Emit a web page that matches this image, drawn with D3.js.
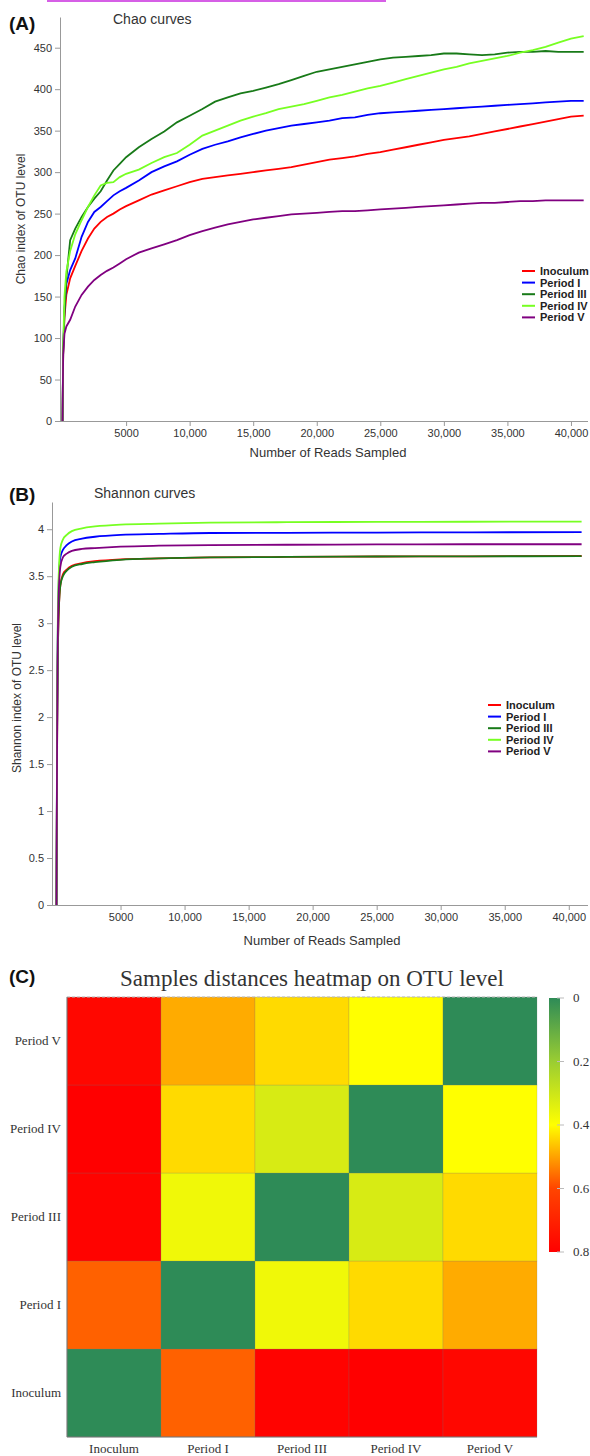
<!DOCTYPE html>
<html>
<head>
<meta charset="utf-8">
<script src="https://cdn.jsdelivr.net/npm/d3@7/dist/d3.min.js"></script>
<style>
  body { margin: 0; background: #fff; }
  svg text { font-family: "Liberation Sans", Arial, sans-serif; }
  .serif { font-family: "Liberation Serif", "Times New Roman", serif; }
  .axis path, .axis line { stroke: #999; }
  .axis text { fill: #333; font-size: 11px; }
</style>
</head>
<body>
<svg id="fig" width="590" height="1456"></svg>
<script>
// ---- data ----
var seriesNames = ["Inoculum", "Period I", "Period III", "Period IV", "Period V"];
var seriesColors = ["#ff0000", "#0000ff", "#187a18", "#77ff22", "#800080"];

var chaoReads = [0, 50, 150, 300, 600, 1000, 1500, 2000, 2500, 3000, 3500, 4000, 4500, 5000,
  6000, 7000, 8000, 9000, 10000, 11000, 12000, 13000, 14000, 15000, 16000, 17000, 18000, 19000,
  20000, 21000, 22000, 23000, 24000, 25000, 26000, 27000, 28000, 29000, 30000, 31000, 32000,
  33000, 34000, 35000, 36000, 37000, 38000, 39000, 40000, 41000];
var chaoInoculum = [0, 80, 125, 152, 172, 187, 205, 220, 232, 240, 246, 250, 255, 259,
  266, 273, 278, 283, 288, 292, 294, 296, 298, 300, 302, 304, 306, 309,
  312, 315, 317, 319, 322, 324, 327, 330, 333, 336, 339, 341, 343,
  346, 349, 352, 355, 358, 361, 364, 367, 368];
var chaoPeriodI = [0, 85, 135, 165, 182, 196, 222, 240, 252, 258, 265, 272, 277, 281,
  290, 300, 307, 313, 321, 328, 333, 337, 342, 346, 350, 353, 356, 358,
  360, 362, 365, 366, 369, 371, 372, 373, 374, 375, 376, 377, 378,
  379, 380, 381, 382, 383, 384, 385, 386, 386];
var chaoPeriodIII = [0, 82, 130, 172, 218, 232, 246, 258, 268, 277, 290, 302, 310, 318,
  330, 340, 349, 360, 368, 376, 385, 390, 395, 398, 402, 406, 411, 416,
  421, 424, 427, 430, 433, 436, 438, 439, 440, 441, 443, 443, 442,
  441, 442, 444, 445, 445, 446, 445, 445, 445];
var chaoPeriodIV = [0, 90, 150, 180, 205, 225, 242, 258, 272, 284, 287, 288, 294, 298,
  303, 311, 318, 323, 333, 344, 350, 356, 362, 367, 371, 376, 379, 382,
  386, 390, 393, 397, 401, 404, 408, 412, 416, 420, 424, 427, 431,
  434, 437, 440, 444, 447, 451, 456, 461, 464];
var chaoPeriodV = [0, 80, 105, 114, 122, 138, 152, 162, 170, 176, 181, 185, 190, 195,
  203, 208, 213, 218, 224, 229, 233, 237, 240, 243, 245, 247, 249, 250,
  251, 252, 253, 253, 254, 255, 256, 257, 258, 259, 260, 261, 262,
  263, 263, 264, 265, 265, 266, 266, 266, 266];

var shannonReads = [0, 50, 150, 300, 500, 800, 1200, 2000, 3000, 5000, 8000, 12000, 18000, 25000, 32000, 41000];
var shannonInoculum = [0, 1.7, 3.0, 3.4, 3.52, 3.57, 3.61, 3.64, 3.66, 3.68, 3.69, 3.70, 3.705, 3.71, 3.712, 3.715];
var shannonPeriodI = [0, 1.9, 3.3, 3.7, 3.78, 3.83, 3.87, 3.90, 3.92, 3.94, 3.95, 3.96, 3.962, 3.965, 3.967, 3.97];
var shannonPeriodIII = [0, 1.7, 3.0, 3.4, 3.5, 3.56, 3.60, 3.63, 3.65, 3.675, 3.69, 3.70, 3.705, 3.71, 3.712, 3.713];
var shannonPeriodIV = [0, 2.0, 3.4, 3.8, 3.89, 3.94, 3.98, 4.01, 4.03, 4.05, 4.06, 4.07, 4.075, 4.078, 4.08, 4.082];
var shannonPeriodV = [0, 1.8, 3.2, 3.6, 3.70, 3.74, 3.77, 3.79, 3.80, 3.815, 3.825, 3.83, 3.835, 3.838, 3.84, 3.84];

var chaoTicksY = [0, 50, 100, 150, 200, 250, 300, 350, 400, 450];
var shannonTicksY = [0, 0.5, 1, 1.5, 2, 2.5, 3, 3.5, 4];
var readTicks = [5000, 10000, 15000, 20000, 25000, 30000, 35000, 40000];

// heatmap: rows listed bottom -> top, columns left -> right
var samples = ["Inoculum", "Period I", "Period III", "Period IV", "Period V"];
var distances = [
  [0.00, 0.57, 0.79, 0.80, 0.78],
  [0.57, 0.00, 0.37, 0.44, 0.49],
  [0.79, 0.37, 0.00, 0.32, 0.44],
  [0.80, 0.44, 0.32, 0.00, 0.40],
  [0.78, 0.49, 0.44, 0.40, 0.00]
];
var colorStops = [0, 0.2, 0.4, 0.6, 0.8];
var colorStopColors = ["#2e8b57", "#9acd32", "#ffff00", "#ff4500", "#ff0000"];
var colorbarTicks = [0, 0.2, 0.4, 0.6, 0.8];

const svg = d3.select('svg#fig');

// odd magenta strip at the very top of the original
svg.append('rect').attr('x', 47).attr('y', 0).attr('width', 339).attr('height', 2).attr('fill', '#d65fe6');

function fmtReads(d) { return d < 10000 ? String(d) : d3.format(",")(d); }

function curvePanel(opt) {
  const x = d3.scaleLinear().domain(opt.xDomain).range(opt.xRange);
  const y = d3.scaleLinear().domain(opt.yDomain).range(opt.yRange);
  const g = svg.append('g');

  g.append('g').attr('class', 'axis')
    .attr('transform', `translate(0,${opt.yRange[0]})`)
    .call(d3.axisBottom(x).tickValues(readTicks).tickFormat(fmtReads).tickSize(5).tickSizeOuter(0))
    .call(a => a.select('.domain').attr('d', `M${opt.xRange[0] - 5},0.5H${opt.xRange[1]}`));

  g.append('g').attr('class', 'axis')
    .attr('transform', `translate(${opt.xRange[0]},0)`)
    .call(d3.axisLeft(y).tickValues(opt.yTicks).tickFormat(d => String(d)).tickSize(5).tickSizeOuter(0));

  const line = d3.line().x((d, i) => x(opt.reads[i])).y(d => y(d)).curve(opt.curve);
  opt.series.forEach((vals, k) => {
    g.append('path').datum(vals)
      .attr('fill', 'none')
      .attr('stroke', seriesColors[k])
      .attr('stroke-width', 1.8)
      .attr('d', line);
  });

  g.append('text').attr('x', opt.label[0]).attr('y', opt.label[1])
    .style('font-size', '19px').style('font-weight', 'bold').attr('fill', '#111').text(opt.letter);
  g.append('text').attr('x', opt.titlePos[0]).attr('y', opt.titlePos[1])
    .style('font-size', '14px').attr('fill', '#333').text(opt.title);
  g.append('text').attr('transform', `translate(${opt.yTitle[0]},${opt.yTitle[1]}) rotate(-90)`)
    .attr('text-anchor', 'middle').style('font-size', '12px').attr('fill', '#333').text(opt.yLabel);
  g.append('text').attr('x', opt.xTitle[0]).attr('y', opt.xTitle[1])
    .attr('text-anchor', 'middle').style('font-size', '13px').attr('fill', '#333').text('Number of Reads Sampled');

  const lg = g.append('g');
  seriesNames.forEach((n, k) => {
    const yy = opt.legend[1] + k * 11.6;
    lg.append('line').attr('x1', opt.legend[0]).attr('x2', opt.legend[0] + 13)
      .attr('y1', yy).attr('y2', yy).attr('stroke', seriesColors[k]).attr('stroke-width', 2);
    lg.append('text').attr('x', opt.legend[0] + 18).attr('y', yy + 4)
      .style('font-size', '11px').style('font-weight', 'bold').attr('fill', '#222').text(n);
  });
}

curvePanel({
  reads: chaoReads,
  series: [chaoInoculum, chaoPeriodI, chaoPeriodIII, chaoPeriodIV, chaoPeriodV],
  xDomain: [-200, 41340], xRange: [60, 588],
  yDomain: [0, 487], yRange: [421, 17],
  yTicks: chaoTicksY,
  curve: d3.curveLinear,
  letter: '(A)', label: [9, 30],
  title: 'Chao curves', titlePos: [113, 24],
  yLabel: 'Chao index of OTU level', yTitle: [25, 219],
  xTitle: [328, 457],
  legend: [522, 271]
});

curvePanel({
  reads: shannonReads,
  series: [shannonInoculum, shannonPeriodI, shannonPeriodIII, shannonPeriodIV, shannonPeriodV],
  xDomain: [-350, 41500], xRange: [52, 588],
  yDomain: [0, 4.29], yRange: [905, 502],
  yTicks: shannonTicksY,
  curve: d3.curveMonotoneX,
  letter: '(B)', label: [9, 501],
  title: 'Shannon curves', titlePos: [94, 498],
  yLabel: 'Shannon index of OTU level', yTitle: [21, 698],
  xTitle: [322, 945],
  legend: [488, 705]
});

// ---- heatmap ----
const hx = d3.scaleBand().domain(samples).range([67, 537]);
const hy = d3.scaleBand().domain(samples.slice().reverse()).range([997, 1437]);
const color = d3.scaleLinear().domain(colorStops).range(colorStopColors);

const hm = svg.append('g');
distances.forEach((row, i) => {
  row.forEach((v, j) => {
    hm.append('rect')
      .attr('x', hx(samples[j])).attr('y', hy(samples[i]))
      .attr('width', hx.bandwidth()).attr('height', hy.bandwidth())
      .attr('fill', color(v))
      .attr('stroke', 'rgba(120,120,120,0.35)').attr('stroke-width', 0.6);
  });
});
hm.append('line').attr('x1', 67).attr('x2', 537).attr('y1', 997).attr('y2', 997)
  .attr('stroke', '#bbb').attr('stroke-dasharray', '3,2');
hm.append('line').attr('x1', 67).attr('x2', 67).attr('y1', 997).attr('y2', 1437).attr('stroke', '#777');
hm.append('line').attr('x1', 67).attr('x2', 537).attr('y1', 1437).attr('y2', 1437).attr('stroke', '#777');

samples.forEach(s => {
  hm.append('text').attr('class', 'serif').attr('x', 61).attr('y', hy(s) + hy.bandwidth() / 2 + 4)
    .attr('text-anchor', 'end').style('font-size', '13px').attr('fill', '#333').text(s);
  hm.append('text').attr('class', 'serif').attr('x', hx(s) + hx.bandwidth() / 2).attr('y', 1453)
    .attr('text-anchor', 'middle').style('font-size', '13px').attr('fill', '#333').text(s);
});

hm.append('text').attr('class', 'serif').attr('x', 312).attr('y', 986)
  .attr('text-anchor', 'middle').style('font-size', '23px').attr('fill', '#333')
  .text('Samples distances heatmap on OTU level');
hm.append('text').attr('x', 9).attr('y', 983)
  .style('font-size', '19px').style('font-weight', 'bold').attr('fill', '#111').text('(C)');

// colour bar
const cb = d3.scaleLinear().domain([0, 0.8]).range([998, 1252]);
const defs = svg.append('defs');
const grad = defs.append('linearGradient').attr('id', 'cbar')
  .attr('x1', 0).attr('x2', 0).attr('y1', 0).attr('y2', 1);
colorStops.forEach((s, i) => {
  grad.append('stop').attr('offset', s / 0.8).attr('stop-color', colorStopColors[i]);
});
hm.append('rect').attr('x', 549).attr('y', cb(0)).attr('width', 11).attr('height', cb(0.8) - cb(0))
  .attr('fill', 'url(#cbar)');
colorbarTicks.forEach(t => {
  hm.append('line').attr('x1', 557).attr('x2', 564).attr('y1', cb(t)).attr('y2', cb(t))
    .attr('stroke', '#bbb');
  hm.append('text').attr('class', 'serif').attr('x', 573).attr('y', cb(t) + 4)
    .style('font-size', '13px').attr('fill', '#333').text(t === 0 ? '0' : t);
});
</script>
</body>
</html>
